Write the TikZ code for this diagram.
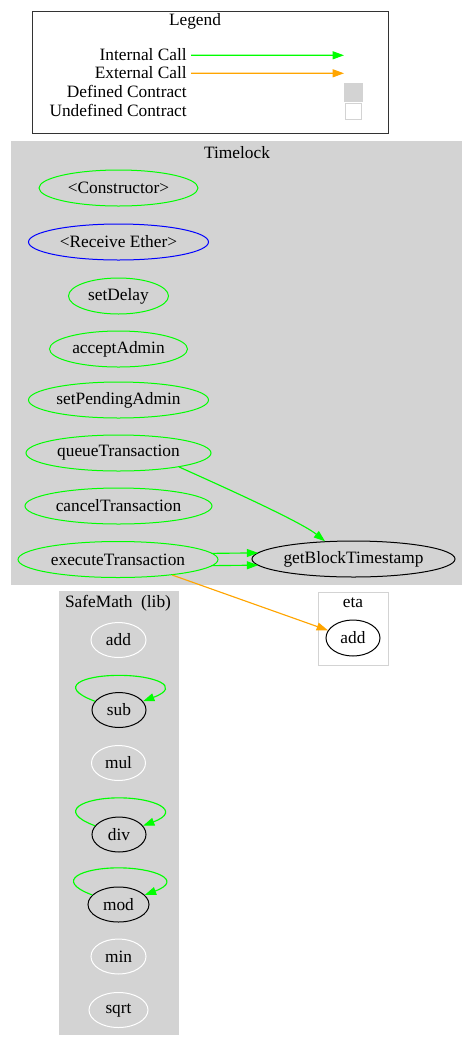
\documentclass[tikz,border=0pt]{standalone}
\usepackage{fontspec}
\setmainfont{Liberation Serif}
\usetikzlibrary{shapes.geometric,arrows.meta}
\definecolor{clgray}{HTML}{D3D3D3}
\definecolor{cgreen}{HTML}{00FF00}
\definecolor{corange}{HTML}{FFA500}
\definecolor{cblue}{HTML}{0000FF}
\begin{document}
\begin{tikzpicture}[x=0.75pt,y=-0.75pt,
  font=\fontsize{13}{15}\selectfont,
  lbl/.style={inner sep=0pt},
  fn/.style={ellipse, draw, line width=0.75pt, inner sep=0pt, minimum height=27pt},
  lib/.style={ellipse, draw, line width=0.75pt, inner sep=0pt, minimum height=26.25pt},
  tip/.style={line width=0.85pt, -{Triangle[length=8.5pt,width=6pt]}},
]
\useasboundingbox (0,0) rectangle (474,1047);
\fill[white] (0,0) rectangle (474,1047);

% Legend
\draw[line width=0.75pt, black!80] (32,11) rectangle (388,133);
\node[lbl] (legtitle) at (195,21) {Legend};
\node[lbl, anchor=east] (lint) at (187,55) {Internal Call};
\node[lbl, anchor=east] (lext) at (187,73) {External Call};
\node[lbl, anchor=east] (ldeftxt) at (187,91.5) {Defined Contract};
\node[lbl, anchor=east] (lundeftxt) at (187,110.5) {Undefined Contract};
\coordinate (lintend) at (344,55.3);
\coordinate (lextend) at (344,73.3);
\draw[tip, cgreen] ([xshift=3pt,yshift=-0.2pt]lint.east) -- (lintend);
\draw[tip, corange] ([xshift=3pt,yshift=-0.2pt]lext.east) -- (lextend);
\node[draw=clgray, fill=clgray, minimum size=13.5pt, inner sep=0pt] (ldef) at (353,92) {};
\node[draw=clgray, fill=white, line width=0.75pt, minimum size=12.5pt, inner sep=0pt] (lundef) at (353.5,111.5) {};

% Clusters
\fill[clgray] (11,141) rectangle (462,585);
\node[lbl] (tltitle) at (237,153) {Timelock};
\fill[clgray] (59,591) rectangle (179,1035);
\node[lbl] (smtitle) at (118,603) {SafeMath\ \ (lib)};
\draw[clgray, line width=0.75pt] (318,592) rectangle (388,665);
\node[lbl] (etatitle) at (353,603) {eta};

% Timelock nodes
\node[fn, draw=cgreen, minimum width=119.25pt] (ctor) at (118.5,188) {<Constructor>};
\node[fn, draw=cblue, minimum width=135pt] (recv) at (118.5,242) {<Receive Ether>};
\node[fn, draw=cgreen, minimum width=75pt] (setdelay) at (118.5,296) {setDelay};
\node[fn, draw=cgreen, minimum width=103.5pt] (accept) at (118.5,349) {acceptAdmin};
\node[fn, draw=cgreen, minimum width=135pt] (setpend) at (118.5,400) {setPendingAdmin};
\node[fn, draw=cgreen, minimum width=138.75pt] (queue) at (118.5,453) {queueTransaction};
\node[fn, draw=cgreen, minimum width=140.25pt] (cancel) at (118.5,506) {cancelTransaction};
\node[fn, draw=cgreen, minimum width=150pt] (exec) at (118,559.5) {executeTransaction};
\node[fn, draw=black, minimum width=152.25pt] (gbt) at (353.5,559) {getBlockTimestamp};

% SafeMath nodes
\node[lib, draw=white, minimum width=41.25pt] (add) at (118.5,640) {add};
\node[lib, draw=black, minimum width=40.5pt] (sub) at (119,710) {sub};
\node[lib, draw=white, minimum width=40.5pt] (mul) at (118.5,763) {mul};
\node[lib, draw=black, minimum width=40.5pt] (div) at (119,834.5) {div};
\node[lib, draw=black, minimum width=45.75pt] (mod) at (118.5,904.5) {mod};
\node[lib, draw=white, minimum width=41.25pt] (min) at (118.5,956.5) {min};
\node[lib, draw=white, minimum width=44.25pt] (sqrt) at (118.5,1010) {sqrt};

% eta node
\node[fn, draw=black, minimum width=40.5pt] (etaadd) at (353,638) {add};

% Edges
\draw[tip, cgreen] (queue.-13) .. controls +(40,18) and +(-25,-20) .. (gbt.148);
\draw[tip, cgreen] ([xshift=70pt,yshift=4.6pt]exec.center) -- ([xshift=-71.5pt,yshift=4.6pt]gbt.center);
\draw[tip, cgreen] ([xshift=70pt,yshift=-4.6pt]exec.center) -- ([xshift=-71.5pt,yshift=-4.6pt]gbt.center);
\draw[tip, corange] (exec.-16) -- (etaadd.163);

\draw[tip, cgreen] (sub.160) .. controls +(-40,-15) and +(-35,0) .. ([yshift=12.5pt]sub.north) .. controls +(35,0) and +(40,-15) .. (sub.20);
\draw[tip, cgreen] (div.160) .. controls +(-40,-15) and +(-35,0) .. ([yshift=14pt]div.north) .. controls +(35,0) and +(40,-15) .. (div.20);
\draw[tip, cgreen] (mod.160) .. controls +(-40,-15) and +(-35,0) .. ([yshift=14pt]mod.north) .. controls +(35,0) and +(40,-15) .. (mod.20);
\end{tikzpicture}
\end{document}
